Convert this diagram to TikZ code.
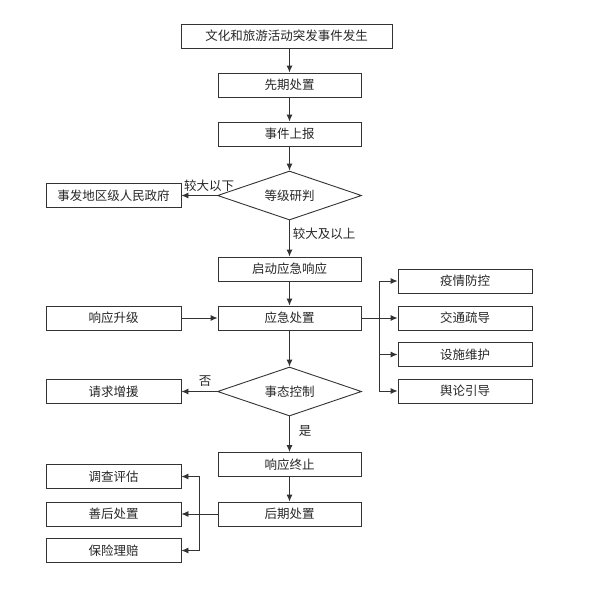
\documentclass[tikz,border=0pt]{standalone}
\usepackage{fontspec}
\newfontfamily\cjk{Noto Sans CJK SC}
\usetikzlibrary{arrows.meta,shapes.geometric}
\begin{document}
\begin{tikzpicture}[x=1pt,y=-1pt,
  every node/.style={font=\cjk\fontsize{12.5}{14}\selectfont, text=black!85},
  box/.style={draw=black!80, line width=0.9pt, rectangle, inner sep=0pt, minimum height=24pt},
  mid/.style={box, minimum width=143pt},
  side/.style={box, minimum width=135pt},
  rbox/.style={box, minimum width=134pt},
  dia/.style={draw=black!80, line width=0.9pt, diamond, inner sep=0pt, aspect=2.9, minimum width=144pt, minimum height=49pt},
  line/.style={draw=black!80, line width=0.9pt},
  arr/.style={line, -{Latex[length=7pt,width=6pt]}},
  lab/.style={inner sep=0pt}]
\useasboundingbox (0,0) rectangle (596,614);
\node[box, minimum width=211pt] (a) at (286.5,36) {文化和旅游活动突发事件发生};
\node[mid] (b) at (289.5,85) {先期处置};
\node[mid] (c) at (289.5,134) {事件上报};
\node[dia] (d) at (289.5,195.5) {等级研判};
\node[side] (e) at (113.5,195.5) {事发地区级人民政府};
\node[mid] (f) at (289.5,269) {启动应急响应};
\node[mid] (g) at (289.5,318) {应急处置};
\node[side] (h) at (113.5,318) {响应升级};
\node[rbox] (r1) at (465,281) {疫情防控};
\node[rbox] (r2) at (465,318) {交通疏导};
\node[rbox] (r3) at (465,354.5) {设施维护};
\node[rbox] (r4) at (465,391) {舆论引导};
\node[dia] (k) at (289.5,391.5) {事态控制};
\node[side] (q) at (113.5,391.5) {请求增援};
\node[mid] (m) at (289.5,464.5) {响应终止};
\node[mid] (n) at (289.5,514) {后期处置};
\node[side] (l1) at (113.5,476.5) {调查评估};
\node[side] (l2) at (113.5,514) {善后处置};
\node[side] (l3) at (113.5,550.5) {保险理赔};
\coordinate (br) at (379,318);
\coordinate (bl) at (199,514);
\node[lab] (t1) at (209,186) {较大以下};
\node[lab] (t2) at (324,234) {较大及以上};
\node[lab] (t3) at (205,381) {否};
\node[lab] (t4) at (305,431) {是};
\draw[arr] (a.south -| b.north) -- (b.north);
\draw[arr] (b) -- (c);
\draw[arr] (c) -- (d.north);
\draw[arr] (d.west) -- (e.east);
\draw[arr] (d.south) -- (f.north);
\draw[arr] (f) -- (g);
\draw[arr] (h) -- (g);
\draw[line] (g.east) -- (br);
\draw[arr] (br) |- (r1.west);
\draw[arr] (br) -- (r2.west);
\draw[arr] (br) |- (r3.west);
\draw[arr] (br) |- (r4.west);
\draw[arr] (g.south) -- (k.north);
\draw[arr] (k.west) -- (q.east);
\draw[arr] (k.south) -- (m.north);
\draw[arr] (m) -- (n);
\draw[line] (n.west) -- (bl);
\draw[arr] (bl) |- (l1.east);
\draw[arr] (bl) -- (l2.east);
\draw[arr] (bl) |- (l3.east);
\end{tikzpicture}
\end{document}
